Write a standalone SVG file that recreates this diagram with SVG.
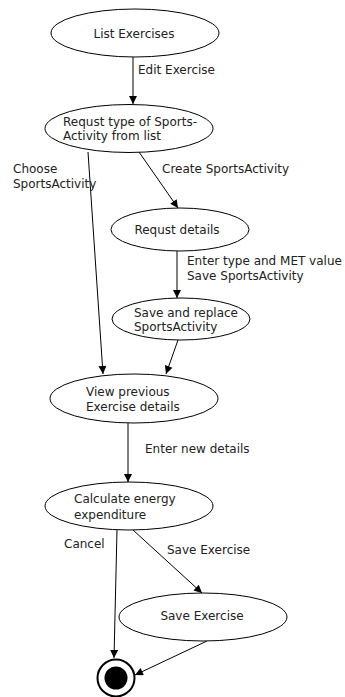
<svg xmlns="http://www.w3.org/2000/svg" width="345" height="697" viewBox="0 0 345 697">
  <style>
    .state ellipse { fill: #ffffff; stroke: #000000; stroke-width: 1; }
    text { font-family: "DejaVu Sans", sans-serif; font-size: 12px; fill: #222222; }
    .c { text-anchor: middle; }
    .edge { stroke: #000000; stroke-width: 1; fill: none; marker-end: url(#arrow); }
  </style>
  <defs>
    <marker id="arrow" viewBox="0 0 10 10" refX="10" refY="5" markerWidth="9" markerHeight="8" markerUnits="userSpaceOnUse" orient="auto">
      <path d="M0,0 L10,5 L0,10 z" fill="#000000"/>
    </marker>
  </defs>
  <rect width="345" height="697" fill="#ffffff"/>

  <g id="connectors">
    <line class="edge" x1="133" y1="57" x2="133" y2="104"/>
    <line class="edge" x1="88" y1="152" x2="103" y2="374"/>
    <line class="edge" x1="139" y1="152" x2="178" y2="208"/>
    <line class="edge" x1="177" y1="251" x2="177" y2="298"/>
    <line class="edge" x1="178" y1="340" x2="166" y2="374"/>
    <line class="edge" x1="128" y1="423" x2="128" y2="482"/>
    <line class="edge" x1="117" y1="530" x2="114" y2="658"/>
    <line class="edge" x1="133" y1="530" x2="202" y2="593"/>
    <line class="edge" x1="207" y1="641" x2="135" y2="675"/>
    <text x="138" y="74">Edit Exercise</text>
    <text x="13" y="173">Choose</text>
    <text x="13" y="188">SportsActivity</text>
    <text x="162" y="173">Create SportsActivity</text>
    <text x="187" y="265">Enter type and MET value</text>
    <text x="187" y="280">Save SportsActivity</text>
    <text x="145" y="453">Enter new details</text>
    <text x="64" y="548">Cancel</text>
    <text x="167" y="554">Save Exercise</text>
  </g>

  <g id="list-exercises" class="state">
    <ellipse cx="135" cy="33" rx="84" ry="24"/>
    <text class="c" x="134" y="38">List Exercises</text>
  </g>
  <g id="request-type" class="state">
    <ellipse cx="129" cy="128.5" rx="84" ry="24"/>
    <text x="63" y="126">Requst type of Sports-</text>
    <text x="63" y="140">Activity from list</text>
  </g>
  <g id="request-details" class="state">
    <ellipse cx="180" cy="229.5" rx="69" ry="21.5"/>
    <text class="c" x="177" y="234">Requst details</text>
  </g>
  <g id="save-replace" class="state">
    <ellipse cx="181" cy="319" rx="69" ry="21"/>
    <text x="134" y="317">Save and replace</text>
    <text x="134" y="331">SportsActivity</text>
  </g>
  <g id="view-previous" class="state">
    <ellipse cx="134" cy="398.5" rx="84" ry="24.5"/>
    <text x="86" y="396">View previous</text>
    <text x="86" y="411">Exercise details</text>
  </g>
  <g id="calculate" class="state">
    <ellipse cx="129" cy="506" rx="84" ry="24"/>
    <text x="74" y="503">Calculate energy</text>
    <text x="74" y="519">expenditure</text>
  </g>
  <g id="save-exercise" class="state">
    <ellipse cx="203" cy="617" rx="84" ry="24"/>
    <text class="c" x="202" y="620">Save Exercise</text>
  </g>
  <g id="final">
    <circle cx="116" cy="678" r="18.5" fill="#ffffff" stroke="#000000" stroke-width="2"/>
    <circle cx="116" cy="678" r="11.5" fill="#000000"/>
  </g>
</svg>
